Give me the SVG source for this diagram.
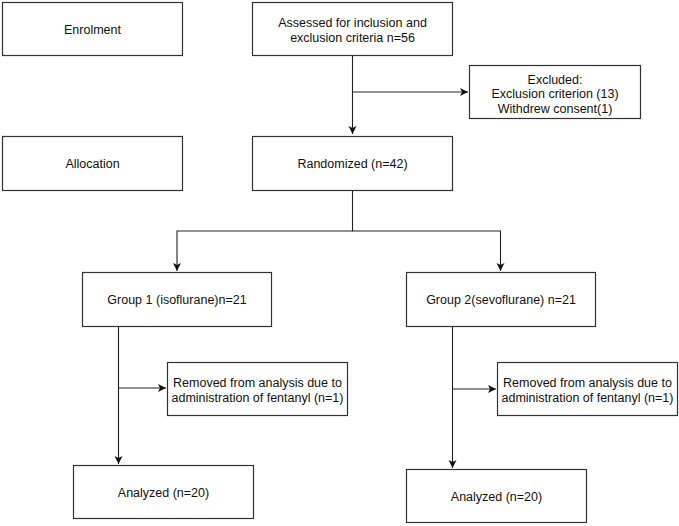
<svg xmlns="http://www.w3.org/2000/svg" width="679" height="526" viewBox="0 0 679 526">
<style>
.box{fill:#fff;stroke:#333;stroke-width:1.2}
.t{font-family:"Liberation Sans",Arial,sans-serif;font-size:12.5px;fill:#111;text-anchor:middle}
.c{fill:none;stroke:#222;stroke-width:1.1}
</style>
<defs>
<marker id="ah" markerWidth="10" markerHeight="10" refX="8" refY="4" orient="auto" markerUnits="userSpaceOnUse">
<path d="M0,0 L8,4 L0,8 L2,4 z" fill="#111"/>
</marker>
</defs>
<rect width="679" height="526" fill="#fff"/>
<g id="connectors">
<path class="c" d="M352.5,55 V134" marker-end="url(#ah)"/>
<path class="c" d="M352.5,92 H468" marker-end="url(#ah)"/>
<path class="c" d="M352.5,191 V231 H177 V271" marker-end="url(#ah)"/>
<path class="c" d="M352.5,231 H500.5 V271" marker-end="url(#ah)"/>
<path class="c" d="M118.5,326 V464" marker-end="url(#ah)"/>
<path class="c" d="M118.5,388 H166" marker-end="url(#ah)"/>
<path class="c" d="M452.5,326 V468" marker-end="url(#ah)"/>
<path class="c" d="M452.5,389 H496" marker-end="url(#ah)"/>
</g>
<g id="enrolment"><rect class="box" x="2.5" y="2.5" width="180" height="53"/><text class="t" x="92.5" y="33.5">Enrolment</text></g>
<g id="assessed"><rect class="box" x="252.5" y="2.5" width="200" height="53"/><text class="t" x="352.5" y="27">Assessed for inclusion and</text><text class="t" x="352.5" y="42">exclusion criteria n=56</text></g>
<g id="excluded"><rect class="box" x="469.5" y="65.5" width="171" height="53"/><text class="t" x="555" y="83.5">Excluded:</text><text class="t" x="555" y="98">Exclusion criterion (13)</text><text class="t" x="555" y="112.5">Withdrew consent(1)</text></g>
<g id="allocation"><rect class="box" x="2.5" y="136.5" width="180" height="54"/><text class="t" x="92.5" y="168">Allocation</text></g>
<g id="randomized"><rect class="box" x="252.5" y="136.5" width="200" height="54"/><text class="t" x="352.5" y="168">Randomized (n=42)</text></g>
<g id="group1"><rect class="box" x="82.5" y="272.5" width="189" height="54"/><text class="t" x="177" y="304">Group 1 (isoflurane)n=21</text></g>
<g id="group2"><rect class="box" x="406.5" y="272.5" width="189" height="54"/><text class="t" x="501" y="304">Group 2(sevoflurane) n=21</text></g>
<g id="removed1"><rect class="box" x="167.5" y="362.5" width="180" height="53"/><text class="t" x="257.5" y="386.5">Removed from analysis due to</text><text class="t" x="257.5" y="401.5">administration of fentanyl (n=1)</text></g>
<g id="removed2"><rect class="box" x="497.5" y="362.5" width="180" height="53"/><text class="t" x="587.5" y="386.5">Removed from analysis due to</text><text class="t" x="587.5" y="401.5">administration of fentanyl (n=1)</text></g>
<g id="analyzed1"><rect class="box" x="73.5" y="465.5" width="180" height="53"/><text class="t" x="163.5" y="497">Analyzed (n=20)</text></g>
<g id="analyzed2"><rect class="box" x="406.5" y="469.5" width="180" height="53"/><text class="t" x="496.5" y="501">Analyzed (n=20)</text></g>
</svg>
